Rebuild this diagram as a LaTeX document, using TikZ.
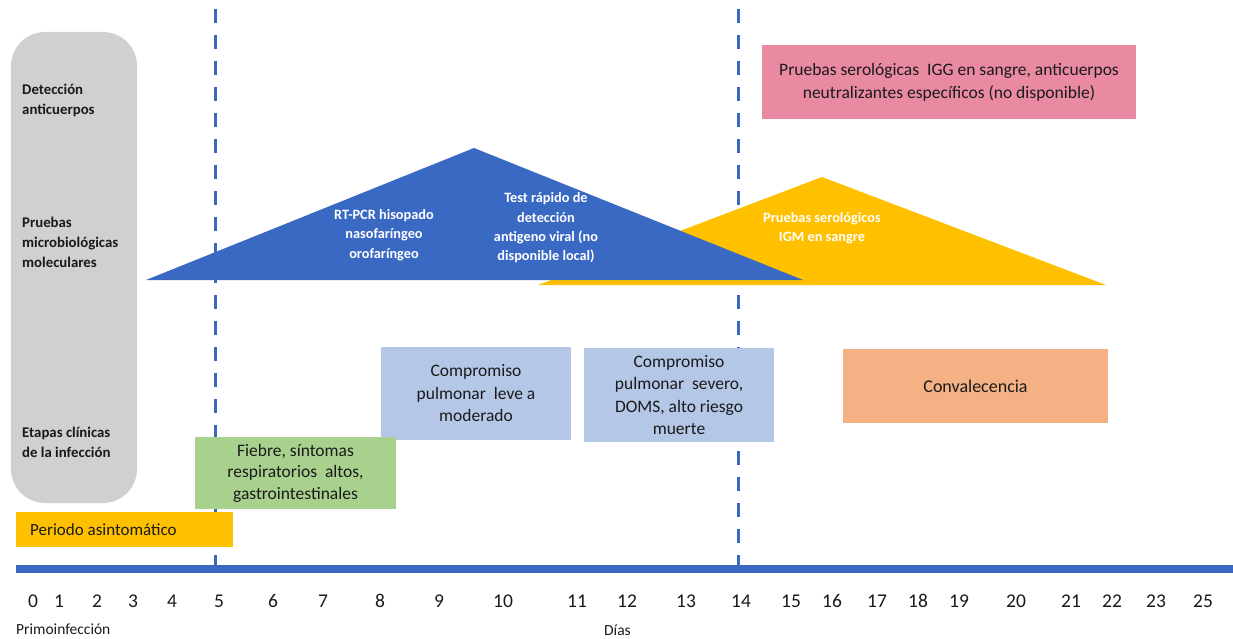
\documentclass[tikz,border=0pt]{standalone}
\usepackage{fontspec}
\setmainfont{Carlito}
\definecolor{grayside}{HTML}{D0D0D0}
\definecolor{tribl}{HTML}{3A69C4}
\definecolor{triye}{HTML}{FFC000}
\definecolor{pinkbox}{HTML}{EA8AA2}
\definecolor{lightbl}{HTML}{B4C7E7}
\definecolor{greenbx}{HTML}{A9D18E}
\definecolor{orangebx}{HTML}{F4B183}
\definecolor{axisbl}{HTML}{3C68C4}
\definecolor{txt}{HTML}{1A1A1A}
\tikzset{
  sidelabel/.style={anchor=west, align=left, font=\fontsize{14.8}{20}\selectfont\bfseries, text=txt, inner sep=0pt},
  trilabel/.style={align=center, font=\fontsize{14.3}{19.3}\selectfont\bfseries, text=white, inner sep=0pt},
  stagebox/.style={draw=none, align=center, font=\fontsize{17.5}{22.5}\selectfont, text=txt, inner sep=0pt},
  daynum/.style={font=\fontsize{19.5}{20}\selectfont, text=txt, inner sep=0pt, anchor=base},
  smalltxt/.style={font=\fontsize{15.5}{18}\selectfont, text=txt, inner sep=0pt, anchor=west},
  dayline/.style={draw=tribl, line width=3pt, dash pattern=on 14pt off 12pt}
}
\begin{document}
\begin{tikzpicture}[x=1pt,y=-1pt]
\useasboundingbox (0,0) rectangle (1233,639);
% side panel
\fill[grayside, rounded corners=34pt] (11,32) rectangle (137,503);
\node[sidelabel] (lab1) at (22,100) {Detección\\anticuerpos};
\node[sidelabel] (lab2) at (22,242) {Pruebas\\microbiológicas\\moleculares};
\node[sidelabel] (lab3) at (22,442) {Etapas clínicas\\de la infección};
% dashed day lines
\coordinate (d5top) at (215,9);
\coordinate (d5bot) at (215,566);
\coordinate (d14top) at (738,9);
\coordinate (d14bot) at (738,566);
\draw[dayline] (d5top) -- (d5bot);
\draw[dayline] (d14top) -- (d14bot);
% triangles
\fill[triye] (538,285) -- (822,177) -- (1106,285) -- cycle;
\fill[tribl] (146,280) -- (474,148) -- (803,280) -- cycle;
\node[trilabel] (rtpcr) at (384,235) {RT-PCR hisopado\\nasofaríngeo\\orofaríngeo};
\node[trilabel] (test) at (546,228) {Test rápido de\\detección\\antigeno viral (no\\disponible local)};
\node[trilabel] (igm) at (822,228) {Pruebas serológicos\\IGM en sangre};
% pink box
\node[stagebox, fill=pinkbox, minimum width=374, minimum height=74, font=\fontsize{17.5}{23}\selectfont] (igg) at (949,82) {Pruebas serológicas\ \ IGG en sangre, anticuerpos\\neutralizantes específicos (no disponible)};
% clinical stage boxes
\node[stagebox, fill=lightbl, minimum width=190, minimum height=93] (leve) at (476,393.5) {Compromiso\\pulmonar\ \ leve a\\moderado};
\node[stagebox, fill=lightbl, minimum width=190, minimum height=94] (severo) at (679,395) {Compromiso\\pulmonar\ \ severo,\\DOMS, alto riesgo\\muerte};
\node[stagebox, fill=greenbx, minimum width=201, minimum height=72, font=\fontsize{17.5}{21.5}\selectfont] (fiebre) at (295.5,473) {Fiebre, síntomas\\respiratorios\ \ altos,\\gastrointestinales};
\node[stagebox, fill=orangebx, minimum width=265, minimum height=74, font=\fontsize{18}{22}\selectfont] (conv) at (975.5,386) {Convalecencia};
\node[stagebox, fill=triye, minimum width=217, minimum height=35] (asin) at (124.5,529.5) {};
\node[smalltxt, font=\fontsize{17}{20}\selectfont] (asintxt) at (30,530) {Periodo asintomático};
% axis
\fill[axisbl] (16,565) rectangle (1233,573);
\foreach \n/\x in {0/33,1/59,2/97,3/133,4/172,5/219,6/273,7/323,8/380,9/439,10/503,11/577,12/627,13/686,14/741,15/791,16/832,17/877,18/918,19/959,20/1016,21/1071,22/1112,23/1156,25/1203}
  \node[daynum] (n\n) at (\x,607.5) {\n};
\node[smalltxt] (primo) at (16,629) {Primoinfección};
\node[smalltxt] (dias) at (604,630) {Días};
\end{tikzpicture}
\end{document}
